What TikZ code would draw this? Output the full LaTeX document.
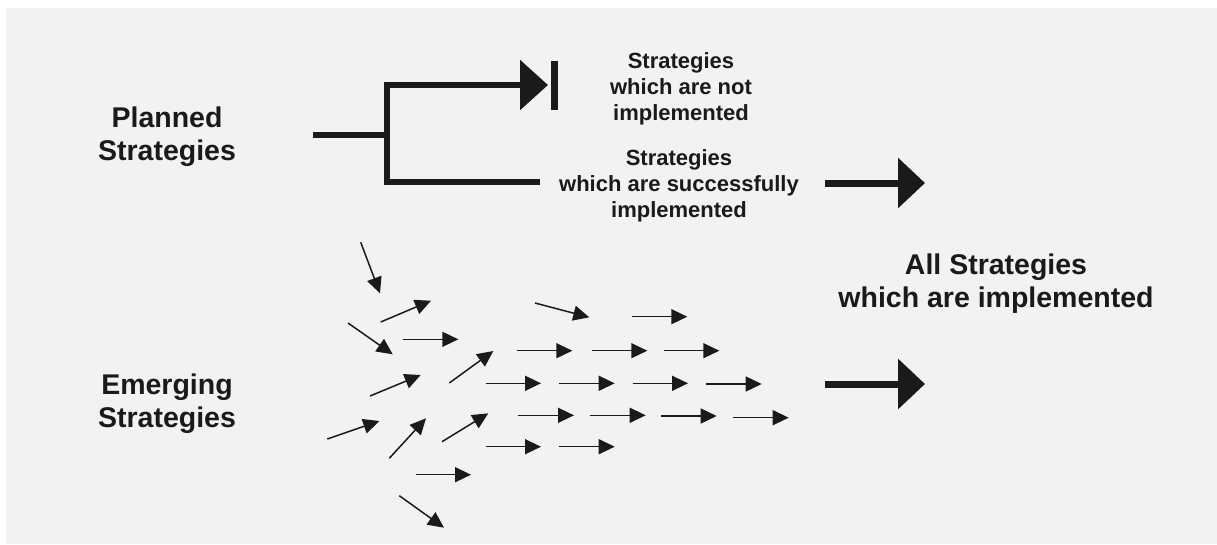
\documentclass[tikz,border=0pt]{standalone}
\usepackage{fontspec}
\setmainfont{Liberation Sans}
\usetikzlibrary{arrows.meta}
\definecolor{bg}{HTML}{F3F2F0}
\definecolor{ink}{HTML}{1A1A1A}
\tikzset{
  big/.style={font={\bfseries\fontsize{28.5}{32.5}\selectfont}, text=ink, align=center, anchor=base, inner sep=0pt},
  small/.style={font={\bfseries\fontsize{22}{26}\selectfont}, text=ink, align=center, anchor=base, inner sep=0pt},
  thin arrow/.style={draw=ink, line width=1.5pt, -{Triangle[length=16pt,width=15pt]}},
  fat arrow/.style={draw=ink, line width=7pt, -{Triangle[length=27pt,width=49pt]}},
  branch/.style={draw=ink, line width=6pt},
}
\begin{document}
\begin{tikzpicture}[x=1pt,y=-1pt]
\useasboundingbox (0,0) rectangle (1217,544);
\fill[bg] (6,8) rectangle (1217,544);

% labels (anchor = baseline of last line)
\node[big] (planned) at (167,160) {Planned\\Strategies};
\node[big] (emerging) at (167,427) {Emerging\\Strategies};
\node[big] (all) at (996,307) {All Strategies\\which are implemented};
\node[small] (notimpl) at (681,120) {Strategies\\which are not\\implemented};
\node[small] (succ) at (679,217) {Strategies\\which are successfully\\implemented};

% planned branch
\coordinate (stubL) at (313,135);
\coordinate (fork) at (387,135);
\coordinate (topC) at (387,85);
\coordinate (botC) at (387,182);
\coordinate (topE) at (548,85);
\coordinate (botE) at (540,182);
\draw[branch] (stubL) -- (fork);
\draw[branch, line join=miter, {Triangle[length=28pt,width=49pt]}-] (topE) -- (topC) -- (botC) -- (botE);
\coordinate (barT) at (554,61);
\coordinate (barB) at (554,110);
\draw[draw=ink, line width=7pt] (barT) -- (barB);

% fat arrows
\coordinate (f1s) at (825,183); \coordinate (f1e) at (925,183);
\coordinate (f2s) at (825,384); \coordinate (f2e) at (925,384);
\draw[fat arrow] (f1s) -- (f1e);
\draw[fat arrow] (f2s) -- (f2e);

% emerging small arrows
\foreach \ax/\ay/\bx/\by [count=\i] in {
  360.7/242.3/380/293.3,
  380.7/322/431/300.7,
  348/323/392.7/354.3,
  403.3/339.3/458.3/339.3,
  449.3/383/493.3/351,
  370/396/420.7/375,
  327.3/439/379.3/421,
  389.3/458.3/426/418.3,
  442/441.7/488.3/413.3,
  416/474.7/471/474.7,
  399.3/495.7/444/527.7,
  535/303/589.3/317.3,
  632/316.7/687.3/316.7,
  516.7/350.7/572.3/350.7,
  592/350.7/647.3/350.7,
  664/350.7/719.3/350.7,
  485.7/383.3/541/383.3,
  559/383.3/614.7/383.3,
  632.7/383.3/688/383.3,
  706/384/761.7/384,
  518.3/415.3/574/415.3,
  590.3/415.3/645.7/415.3,
  661/416/716.7/416,
  733.3/417.7/788.7/417.7,
  485.7/446.7/541/446.7,
  559/446.7/614.7/446.7}
{
  \coordinate (s\i) at (\ax,\ay);
  \coordinate (e\i) at (\bx,\by);
  \draw[thin arrow] (s\i) -- (e\i);
}
\end{tikzpicture}
\end{document}
